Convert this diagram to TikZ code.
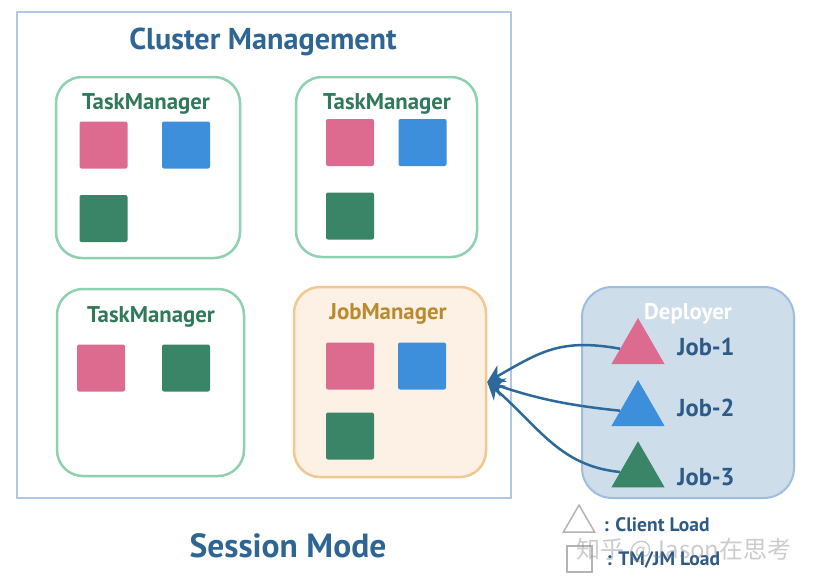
\documentclass[tikz,border=0pt]{standalone}
\usepackage{fontspec}
\usetikzlibrary{shapes.geometric,arrows.meta}
\newfontfamily\semib{PT Sans Bold}
\newfontfamily\cjk{Noto Sans CJK SC}
\definecolor{framec}{HTML}{B2C6E8}
\definecolor{titlec}{HTML}{2F6594}
\definecolor{tmborder}{HTML}{8FD0B0}
\definecolor{tmtext}{HTML}{2F7A5A}
\definecolor{jmfill}{HTML}{FDF1E6}
\definecolor{jmborder}{HTML}{F2C890}
\definecolor{jmtext}{HTML}{B98A2E}
\definecolor{depfill}{HTML}{CEDDEA}
\definecolor{depborder}{HTML}{9FBDE0}
\definecolor{jobtext}{HTML}{2D5A86}
\definecolor{arrowc}{HTML}{2B6A9A}
\definecolor{pinkc}{HTML}{DD6B8F}
\definecolor{bluec}{HTML}{3D8FDB}
\definecolor{greenc}{HTML}{3A8468}
\definecolor{legc}{HTML}{B4B4B4}
\tikzset{
  outer/.style={draw=framec, line width=2pt, inner sep=0pt},
  tmbox/.style={draw=tmborder, line width=2.5pt, rounded corners=26pt, inner sep=0pt},
  jmbox/.style={draw=jmborder, fill=jmfill, line width=2.5pt, rounded corners=26pt, inner sep=0pt},
  depbox/.style={draw=depborder, fill=depfill, line width=2pt, rounded corners=30pt, inner sep=0pt},
  sq/.style={minimum width=48pt, minimum height=47pt, inner sep=0pt, rounded corners=2pt},
  pinksq/.style={sq, fill=pinkc},
  bluesq/.style={sq, fill=bluec},
  greensq/.style={sq, fill=greenc},
  tri/.style={regular polygon, regular polygon sides=3, minimum size=61.4pt, inner sep=0pt},
  tmlabel/.style={text=tmtext, font=\semib\fontsize{22.8}{26}\selectfont},
  joblabel/.style={text=jobtext, font=\semib\fontsize{24.5}{28}\selectfont},
  leglabel/.style={text=jobtext, font=\semib\fontsize{19.5}{22}\selectfont},
  conn/.style={draw=arrowc, line width=2.5pt, -{Stealth[length=17pt,width=19pt]}},
}
\begin{document}
\begin{tikzpicture}[x=1pt,y=-1pt]
\useasboundingbox (0,0) rectangle (813,584);
\fill[white] (0,0) rectangle (813,584);

\node[outer, minimum width=494pt, minimum height=486pt] (cluster) at (264,255) {};
\node[text=titlec, font=\semib\fontsize{30.2}{34}\selectfont] (ctitle) at (263,42) {Cluster Management};

% TaskManager 1
\node[tmbox, minimum width=184pt, minimum height=181pt] (tm1) at (148,167.5) {};
\node[tmlabel] (tm1l) at (146,103.5) {TaskManager};
\node[pinksq] (tm1p) at (103.5,145) {};
\node[bluesq] (tm1b) at (186,145) {};
\node[greensq] (tm1g) at (103.5,218.5) {};

% TaskManager 2
\node[tmbox, minimum width=181pt, minimum height=180pt] (tm2) at (386.5,167) {};
\node[tmlabel] (tm2l) at (387,103.5) {TaskManager};
\node[pinksq] (tm2p) at (350,142.5) {};
\node[bluesq] (tm2b) at (422.5,142.5) {};
\node[greensq] (tm2g) at (350,216) {};

% TaskManager 3
\node[tmbox, minimum width=187pt, minimum height=187pt] (tm3) at (150.5,382.5) {};
\node[tmlabel] (tm3l) at (151,316.5) {TaskManager};
\node[pinksq] (tm3p) at (101,368) {};
\node[greensq] (tm3g) at (186,368) {};

% JobManager
\node[jmbox, minimum width=192pt, minimum height=190pt] (jm) at (390,382) {};
\node[tmlabel, text=jmtext] (jml) at (388,313.5) {JobManager};
\node[pinksq] (jmp) at (350,366) {};
\node[bluesq] (jmb) at (422,366) {};
\node[greensq] (jmg) at (350,436) {};

% Deployer
\node[depbox, minimum width=212pt, minimum height=211pt] (dep) at (688,392.5) {};
\node[tmlabel, text=white] (depl) at (688,314) {Deployer};
\node[tri, fill=pinkc] (t1) at (638,348.7) {};
\node[tri, fill=bluec] (t2) at (638,410.7) {};
\node[tri, fill=greenc] (t3) at (638,472) {};
\node[joblabel] (j1) at (706,347) {Job-1};
\node[joblabel] (j2) at (706,408) {Job-2};
\node[joblabel] (j3) at (706,477) {Job-3};

\draw[conn] (t1.west) .. controls (560,338) and (540,352) .. (jm.east);
\draw[conn] (t2.west) .. controls (565,405) and (535,398) .. (jm.east);
\draw[conn] (t3.west) .. controls (560,466) and (540,428) .. (jm.east);

% Title
\node[text=titlec, font=\semib\fontsize{33.5}{38}\selectfont] (mode) at (288,546) {Session Mode};

% Legend
\node[tri, draw=legc, line width=1.5pt, minimum size=36pt] (lt) at (579,523) {};
\node[leglabel, anchor=west] (ltl) at (600,525) {: Client Load};
\node[draw=legc, line width=1.5pt, minimum width=25pt, minimum height=26pt, inner sep=0pt] (ls) at (579.5,559) {};
\node[leglabel, anchor=west] (lsl) at (603,560) {: TM/JM Load};

% Watermark
\node[text=gray, opacity=0.4, font=\cjk\fontsize{24}{28}\selectfont] (wm) at (684,550) {知乎 @Jason在思考};
\end{tikzpicture}
\end{document}
